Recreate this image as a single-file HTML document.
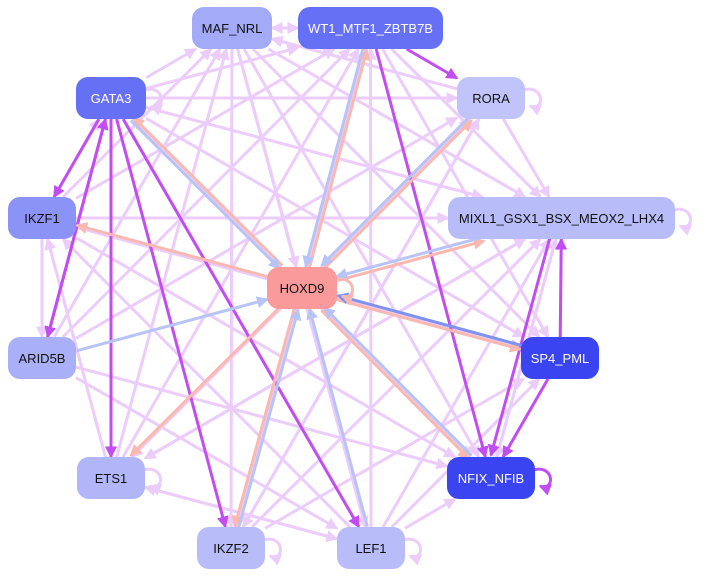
<!DOCTYPE html>
<html><head><meta charset="utf-8"><style>
html,body{margin:0;padding:0;background:#fff;width:705px;height:578px;overflow:hidden;font-family:"Liberation Sans",sans-serif}
.n{position:absolute;border-radius:12px;display:flex;align-items:center;justify-content:center;font-size:13px;color:#111}
.w{color:#fff}
svg{position:absolute;left:0;top:0}
</style></head><body>
<svg id="s" width="705" height="578"></svg>
<div class="n" style="left:192px;top:7px;width:80px;height:42px;background:#a3aaf8">MAF_NRL</div>
<div class="n w" style="left:298px;top:7px;width:145px;height:42px;background:#6670f5">WT1_MTF1_ZBTB7B</div>
<div class="n w" style="left:76px;top:77px;width:70px;height:42px;background:#6670f5">GATA3</div>
<div class="n" style="left:457px;top:77px;width:68px;height:42px;background:#c0c4f9">RORA</div>
<div class="n" style="left:8px;top:197px;width:68px;height:42px;background:#8b93f6">IKZF1</div>
<div class="n" style="left:448px;top:197px;width:227px;height:42px;background:#b8bdf9">MIXL1_GSX1_BSX_MEOX2_LHX4</div>
<div class="n" style="left:267px;top:267px;width:70px;height:42px;background:#fa9a9a">HOXD9</div>
<div class="n" style="left:8px;top:337px;width:68px;height:42px;background:#aab0f8">ARID5B</div>
<div class="n w" style="left:521px;top:337px;width:78px;height:42px;background:#3a44f0">SP4_PML</div>
<div class="n" style="left:77px;top:457px;width:68px;height:42px;background:#b0b6f8">ETS1</div>
<div class="n w" style="left:447px;top:457px;width:88px;height:42px;background:#3a44f0">NFIX_NFIB</div>
<div class="n" style="left:197px;top:527px;width:68px;height:42px;background:#b8bcf8">IKZF2</div>
<div class="n" style="left:337px;top:527px;width:68px;height:42px;background:#b8bcf8">LEF1</div>
<script>
var N={MAF:[192,7,80,42],WT1:[298,7,145,42],GATA3:[76,77,70,42],RORA:[457,77,68,42],IKZF1:[8,197,68,42],MIXL1:[448,197,227,42],HOXD9:[267,267,70,42],ARID5B:[8,337,68,42],SP4:[521,337,78,42],ETS1:[77,457,68,42],NFIX:[447,457,88,42],IKZF2:[197,527,68,42],LEF1:[337,527,68,42]};
function c(k){var r=N[k];return [r[0]+r[2]/2,r[1]+r[3]/2];}
function clip(k,dx,dy){var r=N[k];var hw=r[2]/2,hh=r[3]/2;var t=Math.min(Math.abs(dx)>1e-6?hw/Math.abs(dx):1e9,Math.abs(dy)>1e-6?hh/Math.abs(dy):1e9);return t;}
var L='#ecccfa',P='#c24ef2',S='#f9b8b0',B='#b8c4f6',DB='#7f92ee';
var out='<defs>';
[[L,'l'],[P,'p'],[S,'s'],[B,'b'],[DB,'d']].forEach(function(m){out+='<marker id="m'+m[1]+'" markerWidth="4" markerHeight="4" refX="3.5" refY="2" orient="auto" markerUnits="strokeWidth"><path d="M0,0L4,2L0,4z" fill="'+m[0]+'"/></marker>';});
out+='</defs>';
var ids={};ids[L]='l';ids[P]='p';ids[S]='s';ids[B]='b';ids[DB]='d';
function e(a,b,col,off){col=col||L;off=off||0;var A=c(a),Bc=c(b);var dx=Bc[0]-A[0],dy=Bc[1]-A[1];var len=Math.hypot(dx,dy);var nx=-dy/len*off,ny=dx/len*off;var ta=clip(a,dx,dy),tb=clip(b,dx,dy);
var x1=A[0]+dx*ta+nx,y1=A[1]+dy*ta+ny,x2=Bc[0]-dx*tb+nx,y2=Bc[1]-dy*tb+ny;
out+='<line x1="'+x1+'" y1="'+y1+'" x2="'+x2+'" y2="'+y2+'" stroke="'+col+'" stroke-width="3" marker-end="url(#m'+ids[col]+')"/>';}
var light=[['GATA3','MAF'],['GATA3','WT1'],['GATA3','RORA'],['GATA3','MIXL1'],['GATA3','SP4'],['GATA3','NFIX'],['MAF','WT1'],['WT1','MAF'],['MAF','MIXL1'],['MAF','SP4'],['MAF','NFIX'],['MAF','LEF1'],['MAF','HOXD9'],['IKZF1','MAF'],['IKZF1','WT1'],['IKZF1','MIXL1'],['IKZF1','ARID5B'],['ETS1','IKZF1'],['IKZF1','NFIX'],['IKZF1','SP4'],['ARID5B','MAF'],['ARID5B','WT1'],['ARID5B','NFIX'],['ARID5B','LEF1'],['ETS1','WT1'],['ETS1','MIXL1'],['ETS1','LEF1'],['ETS1','MAF'],['IKZF2','MIXL1'],['IKZF2','RORA'],['IKZF2','WT1'],['IKZF2','SP4'],['LEF1','MIXL1'],['LEF1','WT1'],['LEF1','IKZF1'],['LEF1','NFIX'],['LEF1','SP4'],['LEF1','ETS1'],['RORA','MIXL1'],['RORA','ETS1'],['RORA','IKZF2'],['RORA','MAF'],['WT1','MIXL1'],['WT1','SP4'],['WT1','IKZF2'],['MIXL1','NFIX'],['MIXL1','ETS1'],['NFIX','MIXL1'],['SP4','MIXL1'],['IKZF1','GATA3'],['ARID5B','RORA'],['HOXD9','LEF1'],['MAF','IKZF2'],['ETS1','RORA'],['GATA3','LEF1']];
light.forEach(function(p){e(p[0],p[1],L);});
[['GATA3','IKZF1'],['WT1','RORA'],['WT1','NFIX'],['SP4','MIXL1'],['SP4','NFIX'],['GATA3','ETS1'],['GATA3','IKZF2'],['GATA3','LEF1'],['ARID5B','GATA3'],['MIXL1','NFIX',1],['GATA3','ARID5B']].forEach(function(p){e(p[0],p[1],P,p[2]?6:0);});
[['HOXD9','IKZF1'],['HOXD9','ETS1'],['HOXD9','IKZF2'],['HOXD9','NFIX'],['HOXD9','SP4'],['HOXD9','MIXL1'],['HOXD9','GATA3'],['HOXD9','WT1'],['HOXD9','RORA']].forEach(function(p){e(p[0],p[1],S,2);});
[['GATA3','HOXD9'],['WT1','HOXD9'],['ARID5B','HOXD9'],['RORA','HOXD9'],['MIXL1','HOXD9'],['IKZF2','HOXD9'],['NFIX','HOXD9'],['LEF1','HOXD9']].forEach(function(p){e(p[0],p[1],B,2);});
e('SP4','HOXD9',DB,2);
function loop(k,col){var r=N[k];var x=r[0]+r[2],y=r[1]+r[3]/2;out+='<path d="M'+(x-2)+','+(y-8)+' C'+(x+20)+','+(y-14)+' '+(x+20)+','+(y+14)+' '+(x+5)+','+(y+8)+'" fill="none" stroke="'+col+'" stroke-width="3" marker-end="url(#m'+ids[col]+')"/>';}
loop('GATA3',L);loop('RORA',L);loop('MIXL1',L);loop('ETS1',L);loop('IKZF2',L);loop('LEF1',L);loop('NFIX',P);loop('HOXD9',S);
document.getElementById('s').innerHTML=out;
</script>
</body></html>
